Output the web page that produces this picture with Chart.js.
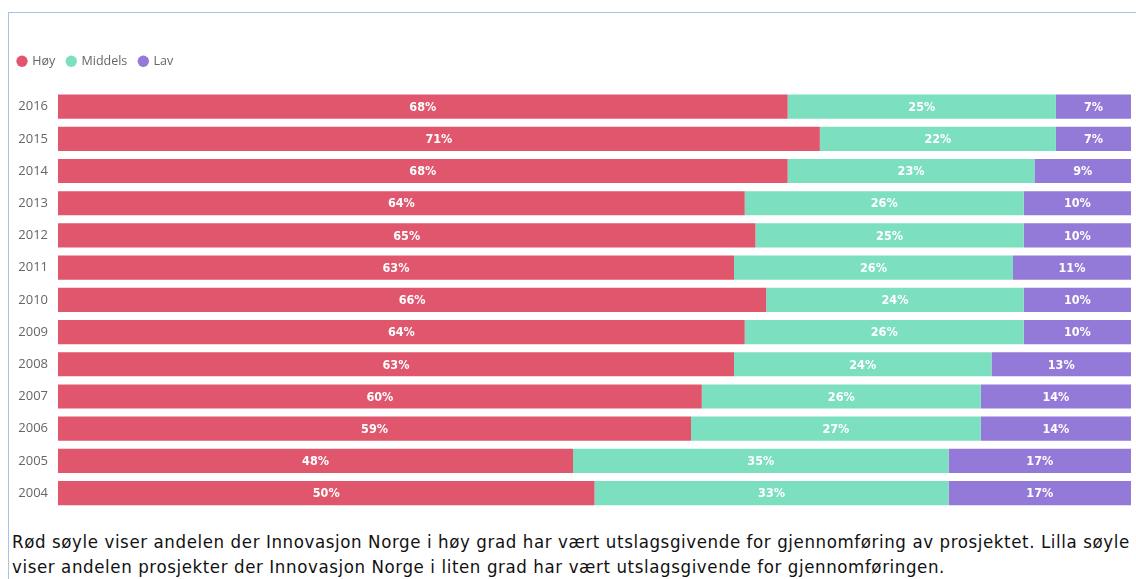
<!DOCTYPE html>
<html>
<head>
<meta charset="utf-8">
<script src="https://cdn.jsdelivr.net/npm/chart.js@4/dist/chart.umd.min.js"></script>
<style>
  body { margin: 0; background: #fff; width: 1136px; height: 579px; overflow: hidden; position: relative; }
  #frame { position: absolute; left: 8px; top: 12px; width: 1200px; height: 600px;
           border-top: 1px solid #a8c1e6; border-left: 1px solid #a8c1e6; }
  #wrap { position: absolute; left: 9px; top: 13px; width: 1127px; height: 514px; }
  #caption { position: absolute; left: 12px; top: 529px; width: 1200px; margin: 0; white-space: nowrap;
             font-family: "Liberation Sans Narrow", "DejaVu Sans Condensed", sans-serif;
             font-size: 18.5px; letter-spacing: 0.6px; line-height: 25px; color: #111; }
</style>
</head>
<body>
<div id="frame"></div>
<div id="wrap"><canvas id="chart"></canvas></div>
<p id="caption">Rød søyle viser andelen der Innovasjon Norge i høy grad har vært utslagsgivende for gjennomføring av prosjektet. Lilla søyle<br>viser andelen prosjekter der Innovasjon Norge i liten grad har vært utslagsgivende for gjennomføringen.</p>
<script>
// Categories and series (percent)
const years = ['2016', '2015', '2014', '2013', '2012', '2011', '2010', '2009', '2008', '2007', '2006', '2005', '2004'];
const hoy     = [68, 71, 68, 64, 65, 63, 66, 64, 63, 60, 59, 48, 50];
const middels = [25, 22, 23, 26, 25, 26, 24, 26, 24, 26, 27, 35, 33];
const lav     = [7, 7, 9, 10, 10, 11, 10, 10, 13, 14, 14, 17, 17];

const seriesNames = ['Høy', 'Middels', 'Lav'];
const seriesColors = ['#e0566c', '#7cdfbf', '#9379d8'];

// Draw the percent labels in the middle of each segment
const segmentLabels = {
    id: 'segmentLabels',
    afterDatasetsDraw(chart) {
        const ctx = chart.ctx;
        ctx.save();
        ctx.fillStyle = '#ffffff';
        ctx.font = 'bold 12.5px "DejaVu Sans Condensed", sans-serif';
        ctx.textAlign = 'center';
        ctx.textBaseline = 'middle';
        chart.data.datasets.forEach(function(ds, i) {
            const meta = chart.getDatasetMeta(i);
            meta.data.forEach(function(bar, j) {
                const cx = (bar.x + bar.base) / 2;
                ctx.fillText(ds.data[j] + '%', cx, bar.y + 1);
            });
        });
        ctx.restore();
    }
};

// Extra room between legend and bars
const legendGap = {
    id: 'legendGap',
    beforeInit(chart) {
        const fit = chart.legend.fit;
        chart.legend.fit = function() {
            fit.bind(chart.legend)();
            this.height += 13;
        };
    }
};

const ctx = document.getElementById('chart').getContext('2d');
new Chart(ctx, {
    type: 'bar',
    data: {
        labels: years,
        datasets: [
            { label: seriesNames[0], data: hoy, backgroundColor: seriesColors[0] },
            { label: seriesNames[1], data: middels, backgroundColor: seriesColors[1] },
            { label: seriesNames[2], data: lav, backgroundColor: seriesColors[2] }
        ]
    },
    options: {
        indexAxis: 'y',
        responsive: true,
        maintainAspectRatio: false,
        animation: false,
        layout: { padding: { left: -3, right: 5, top: 30, bottom: 0 } },
        datasets: { bar: { barPercentage: 0.75, categoryPercentage: 1, borderWidth: 0 } },
        scales: {
            x: {
                stacked: true,
                min: 0,
                max: 100,
                display: false
            },
            y: {
                stacked: true,
                grid: { display: false, drawTicks: false },
                border: { display: false },
                afterFit: function(scale) { scale.width = 52; },
                ticks: {
                    color: '#666',
                    padding: 10,
                    font: { family: '"Open Sans", sans-serif', size: 13 }
                }
            }
        },
        plugins: {
            legend: {
                position: 'top',
                align: 'start',
                labels: {
                    usePointStyle: true,
                    pointStyle: 'circle',
                    boxWidth: 8,
                    boxHeight: 8,
                    padding: 12,
                    color: '#666',
                    font: { family: '"Open Sans", sans-serif', size: 12.5 }
                }
            },
            tooltip: { enabled: false }
        }
    },
    plugins: [segmentLabels, legendGap]
});
</script>
</body>
</html>
